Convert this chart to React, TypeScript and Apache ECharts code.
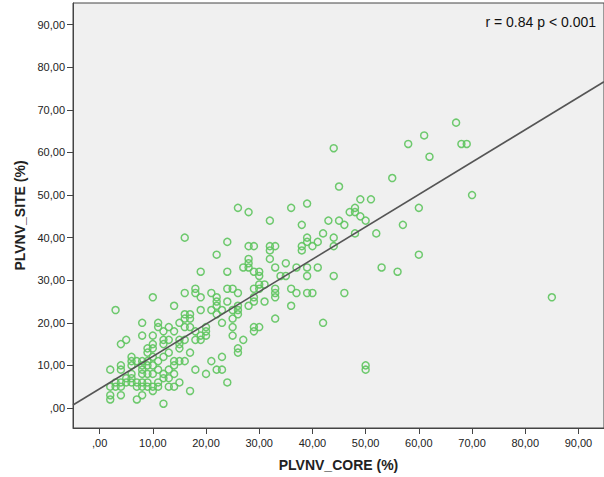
import React, { useEffect, useRef } from "react";
import * as echarts from "echarts";

// PLVNV_CORE (%) values (x) and PLVNV_SITE (%) values (y)
const coreValues: number[] = [
  67, 61, 58, 68, 69, 62, 44, 55, 45, 49, 51, 70, 48, 47, 48, 49, 50, 45, 43, 46, 60, 57, 44, 48, 52, 44, 60, 53, 56, 44, 46, 85, 50, 50, 42,
  26, 28, 36, 39, 32, 38, 16, 24, 28, 29, 32, 33, 32, 39, 39, 38, 38, 40, 41, 42, 22, 28, 28, 27, 28, 32, 35, 33, 29, 30, 30, 37, 39, 34, 35, 39, 41, 19, 24,
  31, 30, 30, 29, 33, 33, 33, 36, 37, 39, 40, 36, 33, 16, 18, 18, 19, 21, 22, 22, 22, 24, 25, 26, 24, 26, 26, 29, 31, 28, 19, 21, 16, 17, 16, 17, 15, 16, 17,
  22, 23, 25, 25, 26, 29, 30, 20,
  25, 29, 27, 26, 26, 23, 23, 24, 29, 25, 23,
  8, 11, 11, 13, 8, 10, 12, 14, 18, 19, 20, 20, 4, 5, 10, 10, 12, 13, 12, 15, 15, 16, 18, 19, 9, 9, 13, 15, 17, 21,
  6, 6, 6, 7, 8, 8, 9, 9, 10, 10, 11, 12, 14, 15, 16, 14, 2, 4, 4, 6, 8, 8, 9, 10, 11, 12, 13, 14, 18, 20, 22,
  3, 4, 5, 6, 3, 4, 5, 6, 7, 7, 8, 8, 9, 9, 10, 11, 11, 12, 13, 13, 14, 15, 17, 2, 2, 4, 7, 8, 10, 12,
  10, 3, 14, 2,
];
const siteValues: number[] = [
  67, 64, 62, 62, 62, 59, 61, 54, 52, 49, 49, 50, 47, 46, 46, 45, 44, 44, 44, 43, 47, 43, 40, 41, 41, 38, 36, 33, 32, 31, 27, 26, 10, 9, 20,
  47, 46, 47, 48, 44, 43, 40, 39, 38, 38, 38, 38, 37, 40, 39, 38, 37, 38, 39, 41, 36, 35, 34, 33, 33, 35, 34, 33, 32, 32, 31, 33, 33, 31, 31, 31, 33, 32, 32,
  29, 29, 28, 28, 28, 27, 26, 28, 27, 27, 27, 24, 21, 27, 28, 27, 26, 27, 26, 25, 24, 28, 28, 27, 25, 24, 23, 25, 25, 24, 23, 23, 22, 22, 21, 21, 20, 19, 19,
  22, 20, 21, 19, 22, 19, 19, 19,
  17, 18, 16, 14, 13, 12, 9, 6, 26, 23, 23,
  20, 20, 19, 19, 17, 17, 18, 18, 18, 17, 18, 17, 15, 16, 15, 14, 16, 16, 15, 16, 15, 16, 16, 16, 14, 13, 13, 14, 13, 11,
  12, 11, 10, 11, 11, 10, 11, 10, 10, 12, 11, 12, 11, 11, 11, 10, 9, 10, 9, 8, 9, 8, 8, 8, 9, 8, 9, 8, 9, 8, 9,
  6, 6, 6, 6, 5, 5, 7, 7, 6, 5, 6, 5, 6, 5, 5, 6, 5, 7, 7, 5, 5, 6, 4, 3, 2, 3, 2, 3, 4, 1,
  26, 23, 24, 5,
];

// Fit line end points (as drawn across the plot)
const fitLineX: number[] = [-5, 94.8];
const fitLineY: number[] = [0.7, 76.6];

const xTicks: number[] = [0, 10, 20, 30, 40, 50, 60, 70, 80, 90];
const yTicks: number[] = [0, 10, 20, 30, 40, 50, 60, 70, 80, 90];

const statText = "r = 0.84 p < 0.001";
const xName = "PLVNV_CORE (%)";
const yName = "PLVNV_SITE (%)";

const fmt = (v: number) => (v === 0 ? ",00" : v.toFixed(2).replace(".", ","));

export default function App() {
  const ref = useRef<HTMLDivElement>(null);
  useEffect(() => {
    if (!ref.current) return;
    const chart = echarts.init(ref.current, undefined, { renderer: "svg" });
    const points = coreValues.map((x, i) => [x, siteValues[i]]);
    const linePts = fitLineX.map((x, i) => [x, fitLineY[i]]);
    const axisFont = { fontFamily: "Liberation Sans", fontSize: 11, color: "#222" };
    chart.setOption({
      animation: false,
      backgroundColor: "#ffffff",
      grid: {
        left: 73,
        top: 3,
        right: -2,
        bottom: 48,
        show: true,
        backgroundColor: "#f0f0f0",
        borderColor: "#444",
        borderWidth: 1,
      },
      xAxis: {
        type: "value",
        min: -5,
        max: 94.8,
        name: xName,
        nameLocation: "middle",
        nameGap: 30,
        nameTextStyle: { fontFamily: "Liberation Sans", fontSize: 14, fontWeight: "bold", color: "#222" },
        axisLine: { show: true, onZero: false, lineStyle: { color: "#444", width: 1 } },
        axisTick: { show: true, length: 6, customValues: xTicks, lineStyle: { color: "#444" } },
        axisLabel: { ...axisFont, margin: 9, customValues: xTicks, formatter: (v: number) => fmt(v) },
        splitLine: { show: false },
      },
      yAxis: {
        type: "value",
        min: -4.7,
        max: 95.1,
        name: yName,
        nameLocation: "middle",
        nameGap: 43,
        nameRotate: 90,
        nameTextStyle: { fontFamily: "Liberation Sans", fontSize: 14, fontWeight: "bold", color: "#222" },
        axisLine: { show: true, onZero: false, lineStyle: { color: "#444", width: 1 } },
        axisTick: { show: true, length: 6, customValues: yTicks, lineStyle: { color: "#444" } },
        axisLabel: { ...axisFont, margin: 8, customValues: yTicks, formatter: (v: number) => fmt(v) },
        splitLine: { show: false },
      },
      graphic: [
        {
          type: "text",
          right: 8,
          top: 15,
          style: {
            text: statText,
            fontFamily: "Liberation Sans",
            fontSize: 14,
            fill: "#111",
          },
        },
      ],
      series: [
        {
          type: "scatter",
          data: points,
          symbol: "circle",
          symbolSize: 7,
          itemStyle: { color: "rgba(0,0,0,0)", borderColor: "#5ec45e", borderWidth: 1.5, opacity: 0.9 },
          z: 2,
        },
        {
          type: "line",
          data: linePts,
          symbol: "none",
          lineStyle: { color: "#555", width: 1.6 },
          z: 3,
        },
      ],
    });
    return () => chart.dispose();
  }, []);
  return <div ref={ref} style={{ position: "fixed", left: 0, top: 0, width: 604, height: 477 }} />;
}
